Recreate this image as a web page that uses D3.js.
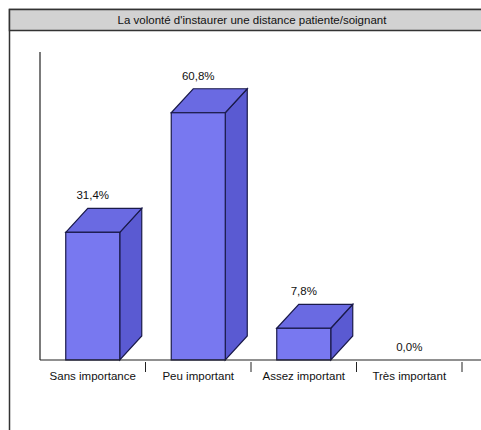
<!DOCTYPE html>
<html><head><meta charset="utf-8">
<script src="https://cdn.jsdelivr.net/npm/d3@7/dist/d3.min.js"></script>
<style>body{margin:0;background:#fff;} svg{display:block;}</style>
</head><body>
<script>
const categories = ["Sans importance", "Peu important", "Assez important", "Très important"];
const values = [31.4, 60.8, 7.8, 0.0];
const valueLabels = ["31,4%", "60,8%", "7,8%", "0,0%"];
const title = "La volonté d'instaurer une distance patiente/soignant";

const W = 481, H = 430;
const svg = d3.select("body").append("svg").attr("width", W).attr("height", H);

// frame
svg.append("rect").attr("x", 9.5).attr("y", 9.5).attr("width", 490).attr("height", 440)
  .attr("fill", "#fff").attr("stroke", "#333").attr("stroke-width", 1.5);
svg.append("rect").attr("x", 9.5).attr("y", 9.5).attr("width", 490).attr("height", 21)
  .attr("fill", "#d2d2d2").attr("stroke", "#333").attr("stroke-width", 1.5);
svg.append("text").attr("x", 252).attr("y", 24).attr("text-anchor", "middle")
  .attr("font-family", "Liberation Sans, Arial, sans-serif").attr("font-size", 11.5)
  .attr("fill", "#111").text(title);

const x0 = 40, x1 = 462, yB = 360, yT = 55;
const x = d3.scaleBand().domain(categories).range([x0, x1]).padding(0);
const y = d3.scaleLinear().domain([0, 75]).range([yB, yT]);
const bw = 54, dx = 22, dy = 24;

const g = svg.append("g");
categories.forEach((c, i) => {
  const v = values[i];
  const cx = x(c) + x.bandwidth() / 2;
  const xl = cx - bw / 2, xr = cx + bw / 2, yt = y(v);
  if (v > 0) {
    // side
    g.append("path").attr("d", `M${xr},${yt}L${xr+dx},${yt-dy}L${xr+dx},${yB-dy}L${xr},${yB}Z`)
      .attr("fill", "#5a5ad2").attr("stroke", "#1a1a4a").attr("stroke-width", 1.2);
    // top
    g.append("path").attr("d", `M${xl},${yt}L${xl+dx},${yt-dy}L${xr+dx},${yt-dy}L${xr},${yt}Z`)
      .attr("fill", "#6a6ae2").attr("stroke", "#1a1a4a").attr("stroke-width", 1.2);
    // front
    g.append("rect").attr("x", xl).attr("y", yt).attr("width", bw).attr("height", yB - yt)
      .attr("fill", "#7878f0").attr("stroke", "#1a1a4a").attr("stroke-width", 1.2);
  }
  g.append("text").attr("x", cx).attr("y", (v > 0 ? yt - dy : yB) - 9)
    .attr("text-anchor", "middle").attr("font-family", "Liberation Sans, Arial, sans-serif")
    .attr("font-size", 11.5).attr("fill", "#111").text(valueLabels[i]);
});

// axes
svg.append("line").attr("x1", x0).attr("x2", x0).attr("y1", 52).attr("y2", yB)
  .attr("stroke", "#222").attr("stroke-width", 1.2);
const xAxis = d3.axisBottom(x).tickSize(0).tickPadding(12);
const ax = svg.append("g").attr("transform", `translate(0,${yB})`).call(xAxis);
ax.select(".domain").attr("d", `M${x0},0H${W}`).attr("stroke", "#222").attr("stroke-width", 1.2);
ax.selectAll("text").attr("font-family", "Liberation Sans, Arial, sans-serif")
  .attr("font-size", 11.5).attr("fill", "#111");
// separators between categories
categories.forEach((c, i) => {
  const xs = x(c) + x.bandwidth();
  ax.append("line").attr("x1", xs).attr("x2", xs).attr("y1", 2).attr("y2", 12)
    .attr("stroke", "#222").attr("stroke-width", 1);
});
</script>
</body></html>
